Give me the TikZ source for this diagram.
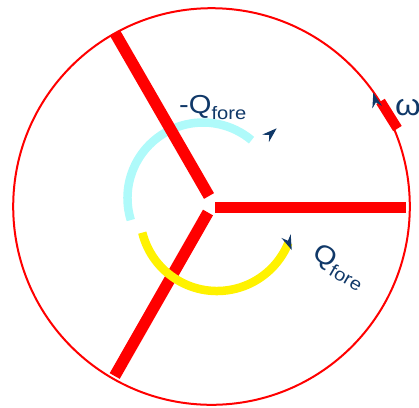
\documentclass[tikz,border=0pt]{standalone}
\usepackage{graphicx}
\usepackage{fontspec}
\setmainfont{Liberation Sans}
\usetikzlibrary{arrows.meta}
\definecolor{navy}{RGB}{16,56,104}
\definecolor{lcyan}{RGB}{175,250,250}
\begin{document}
\begin{tikzpicture}[x=1pt,y=1pt,
  blade/.style={draw=red, line width=11.5pt},
  flowarc/.style={line width=8.5pt},
  lbl/.style={text=navy, inner sep=0pt, font=\fontsize{26}{26}\selectfont},
  headtip/.pic={\fill[navy] (0,0) -- (-15,5) -- (-10,0) -- (-15,-5) -- cycle;}
]
\clip (0,0) rectangle (419,-407);
% rotor rim
\draw[red, line width=2pt] (211.5,-206.5) circle (198.3);
% -Q arc (under blades)
\draw[lcyan, flowarc] ([shift={(197:75.5)}]203,-198) arc[start angle=197, end angle=50, radius=75.5];
% blades
\coordinate (hubR) at (215,-207.5);
\coordinate (tipR) at (406,-207.5);
\coordinate (hubU) at (209,-196);
\coordinate (tipU) at (115,-33);
\coordinate (hubL) at (208,-212.5);
\coordinate (tipL) at (114.7,-376);
\draw[blade] (hubR) -- (tipR);
\draw[blade] (hubU) -- (tipU);
\draw[blade] (hubL) -- (tipL);
% Q arc (over blades)
\draw[yellow, flowarc] ([shift={(194:77)}]217,-214) arc[start angle=194, end angle=338, radius=77];
% omega marker on rim
\fill[red, rotate around={-58:(389,-115)}] (373,-120) rectangle (405,-110);
% arrow heads
\pic[rotate=42] at (276.7,-128.3) {headtip};
\pic[rotate=-68] at (291.7,-250) {headtip};
\pic[rotate=105] at (373.3,-92.7) {headtip};
% labels
\node[lbl, anchor=base west] (negq) at (179,-113) {\scalebox{1.12}[1]{-Q\raisebox{-6pt}{\fontsize{18}{18}\selectfont fore}}};
\node[lbl, rotate=-30] (posq) at (339,-267) {\scalebox{1.12}[1]{Q\raisebox{-6pt}{\fontsize{18}{18}\selectfont fore}}};
\node[lbl, anchor=base west, font=\fontsize{30}{30}\selectfont] (om) at (395,-115) {\scalebox{1.1}[1]{ω}};
\end{tikzpicture}
\end{document}
